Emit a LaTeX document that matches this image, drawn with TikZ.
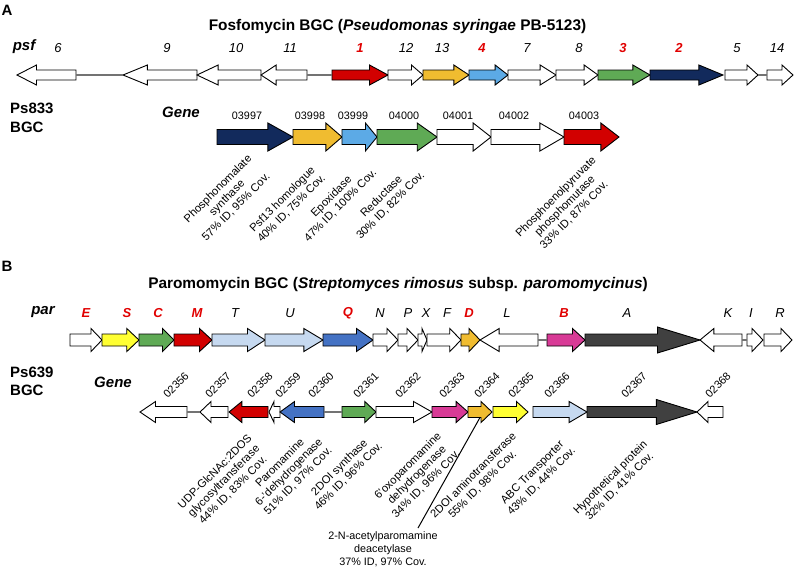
\documentclass[tikz,border=0pt]{standalone}
\usepackage{fontspec}
\setmainfont{Liberation Sans}
\definecolor{gRed}{RGB}{210,0,0}
\definecolor{labRed}{RGB}{225,0,0}
\definecolor{gNavy}{RGB}{18,42,92}
\definecolor{gGold}{RGB}{240,188,48}
\definecolor{gSky}{RGB}{92,170,230}
\definecolor{gGreen}{RGB}{95,170,85}
\definecolor{gYellow}{RGB}{255,255,50}
\definecolor{gPale}{RGB}{198,217,240}
\definecolor{gBlue}{RGB}{68,114,196}
\definecolor{gPink}{RGB}{216,58,150}
\definecolor{gDark}{RGB}{64,64,64}
\tikzset{
  genebox/.style={draw=black, line width=0.9pt, line join=miter},
  linkline/.style={draw=black!55, line width=1.5pt},
  glab/.style={font=\fontsize{13}{13}\selectfont\itshape, inner sep=0pt},
  glabred/.style={font=\fontsize{13}{13}\selectfont\bfseries\itshape, text=labRed, inner sep=0pt},
  rowname/.style={font=\fontsize{15}{15}\selectfont\bfseries\itshape, inner sep=0pt},
  bigtitle/.style={font=\fontsize{15.4}{16}\selectfont\bfseries, inner sep=0pt},
  panel/.style={font=\fontsize{15}{15}\selectfont\bfseries, inner sep=0pt},
  bgcname/.style={font=\fontsize{15}{15}\selectfont\bfseries, inner sep=0pt, anchor=west},
  numlab/.style={font=\fontsize{10.8}{11}\selectfont, inner sep=0pt},
  rotnum/.style={font=\fontsize{11}{11}\selectfont, inner sep=0pt, rotate=45},
  desc/.style={font=\fontsize{11.2}{12.8}\selectfont, align=center, inner sep=0pt, rotate=45},
  hdesc/.style={font=\fontsize{10.8}{13}\selectfont, align=center, inner sep=0pt},
}
\def\hfrac{0.33}
\def\hmin{11}
\newcommand{\gene}[5]{%
  \pgfmathsetmacro\gS{(#3>#2) ? 1 : -1}%
  \pgfmathsetmacro\gL{abs(#3-#2)}%
  \pgfmathsetmacro\gH{max(\hfrac*\gL, min(\gL,\hmin))}%
  \pgfmathsetmacro\gB{#3-\gS*\gH}%
  \path[genebox, fill=#5] (#2,#4-\gbh) -- (\gB,#4-\gbh) -- (\gB,#4-\ghh) -- (#3,#4)
     -- (\gB,#4+\ghh) -- (\gB,#4+\gbh) -- (#2,#4+\gbh) -- cycle;
  \coordinate (#1t) at (#2,#4);
  \coordinate (#1h) at (#3,#4);
}
\begin{document}
\begin{tikzpicture}[x=1pt,y=-1pt]
\useasboundingbox (0,0) rectangle (794,568);
\fill[white] (0,0) rectangle (794,568);

% ---------------- Panel A ----------------
\node[panel] (pA) at (7,10) {A};
\node[bigtitle] (tA) at (397.5,27) {Fosfomycin BGC (\textit{Pseudomonas syringae} PB-5123)};

\node[rowname] (psf) at (24,47) {psf};
\node[glab] (l6) at (58,48) {6};
\node[glab] (l9) at (167,48) {9};
\node[glab] (l10) at (236,48) {10};
\node[glab] (l11) at (290,48) {11};
\node[glabred] (l1) at (360,48) {1};
\node[glab] (l12) at (406,48) {12};
\node[glab] (l13) at (442,48) {13};
\node[glabred] (l4) at (482,48) {4};
\node[glab] (l7) at (527,48) {7};
\node[glab] (l8) at (579,48) {8};
\node[glabred] (l3) at (623,48) {3};
\node[glabred] (l2) at (679,48) {2};
\node[glab] (l5) at (737,48) {5};
\node[glab] (l14) at (777,48) {14};

\def\gbh{5}\def\ghh{10}
\gene{a6}{76}{17}{75}{white}
\gene{a9}{197}{123}{75}{white}
\gene{a10}{261}{197}{75}{white}
\gene{a11}{307}{261}{75}{white}
\gene{a1}{332}{388}{75}{gRed}
\gene{a12}{388}{423}{75}{white}
\gene{a13}{423}{469}{75}{gGold}
\gene{a4}{469}{508}{75}{gSky}
\gene{a7}{508}{556}{75}{white}
\gene{a8}{556}{598}{75}{white}
\gene{a3}{598}{650}{75}{gGreen}
\gene{a2}{650}{723}{75}{gNavy}
\gene{a5}{725}{758}{75}{white}
\gene{a14}{767}{793}{75}{white}
\draw[linkline] (a6t) -- (a9h);
\draw[linkline] (a11t) -- (a1t);
\draw[linkline] (a5h) -- (a14t);

\node[bgcname] (ps833) at (10,108) {Ps833};
\node[bgcname] (bgc1) at (10,127) {BGC};
\node[rowname] (gene1) at (181,112) {Gene};

\node[numlab] (n03997) at (247,116) {03997};
\node[numlab] (n03998) at (310,116) {03998};
\node[numlab] (n03999) at (353,116) {03999};
\node[numlab] (n04000) at (404,116) {04000};
\node[numlab] (n04001) at (458,116) {04001};
\node[numlab] (n04002) at (514,116) {04002};
\node[numlab] (n04003) at (584,116) {04003};

\def\gbh{7.5}\def\ghh{14}
\gene{b1}{217}{293}{137}{gNavy}
\gene{b2}{293}{342}{137}{gGold}
\gene{b3}{342}{377}{137}{gSky}
\gene{b4}{377}{437}{137}{gGreen}
\gene{b5}{437}{491}{137}{white}
\gene{b6}{491}{564}{137}{white}
\gene{b7}{564}{619}{137}{gRed}

\node[desc] (dA1) at (227,198) {Phosphonomalate\\synthase\\57\% ID, 95\% Cov.};
\node[desc] (dA2) at (287,204) {Psf13 homologue\\40\% ID, 75\% Cov.};
\node[desc] (dA3) at (336,201) {Epoxidase\\47\% ID, 100\% Cov.};
\node[desc] (dA4) at (386,201) {Reductase\\30\% ID, 82\% Cov.};
\node[desc] (dA5) at (565,206) {Phosphoenolpyruvate\\phosphomutase\\33\% ID, 87\% Cov.};

% ---------------- Panel B ----------------
\node[panel] (pB) at (7,266) {B};
\node[bigtitle] (tB) at (398,285) {Paromomycin BGC (\textit{Streptomyces rimosus} subsp. \textit{paromomycinus})};

\node[rowname] (par) at (43,312) {par};
\node[glabred] (lE) at (86,313) {E};
\node[glabred] (lS) at (127,313) {S};
\node[glabred] (lC) at (158,313) {C};
\node[glabred] (lM) at (197,313) {M};
\node[glab] (lT) at (235,313) {T};
\node[glab] (lU) at (290,313) {U};
\node[glabred] (lQ) at (348,313) {Q};
\node[glab] (lN) at (380,313) {N};
\node[glab] (lP) at (408,313) {P};
\node[glab] (lX) at (426,313) {X};
\node[glab] (lF) at (447,313) {F};
\node[glabred] (lD) at (469,313) {D};
\node[glab] (lL) at (507,313) {L};
\node[glabred] (lB) at (564,313) {B};
\node[glab] (lA) at (627,313) {A};
\node[glab] (lK) at (728,313) {K};
\node[glab] (lI) at (751,313) {I};
\node[glab] (lR) at (780,313) {R};

\def\gbh{6}\def\ghh{11.5}
\gene{pE}{70}{102}{340}{white}
\gene{pS}{102}{139}{340}{gYellow}
\gene{pC}{139}{174}{340}{gGreen}
\gene{pM}{174}{212}{340}{gRed}
\gene{pT}{212}{265}{340}{gPale}
\gene{pU}{265}{323}{340}{gPale}
\gene{pQ}{323}{373}{340}{gBlue}
\gene{pN}{373}{398}{340}{white}
\gene{pP}{398}{418}{340}{white}
\def\hmin{5}
\gene{pX}{418}{427}{340}{white}
\def\hmin{11}
\gene{pF}{427}{461}{340}{white}
\gene{pD}{461}{480}{340}{gGold}
\gene{pL}{538}{480}{340}{white}
\gene{pB}{547}{585}{340}{gPink}
{\def\ghh{13}\def\hfrac{0.37}\gene{pA}{585}{700}{340}{gDark}}
\gene{pK}{742}{700}{340}{white}
\gene{pI}{747}{763}{340}{white}
\gene{pR}{764}{792}{340}{white}
\draw[linkline] (pLt) -- (pBt);
\draw[linkline] (pKt) -- (pIt);

\node[bgcname] (ps639) at (10,372) {Ps639};
\node[bgcname] (bgc2) at (10,390) {BGC};
\node[rowname] (gene2) at (113,382) {Gene};

\node[rotnum] (m56) at (176,385) {02356};
\node[rotnum] (m57) at (218,385) {02357};
\node[rotnum] (m58) at (260,385) {02358};
\node[rotnum] (m59) at (288,385) {02359};
\node[rotnum] (m60) at (321,385) {02360};
\node[rotnum] (m61) at (366,385) {02361};
\node[rotnum] (m62) at (408,385) {02362};
\node[rotnum] (m63) at (452,385) {02363};
\node[rotnum] (m64) at (487,385) {02364};
\node[rotnum] (m65) at (521,385) {02365};
\node[rotnum] (m66) at (557,385) {02366};
\node[rotnum] (m67) at (634,385) {02367};
\node[rotnum] (m68) at (718,385) {02368};

\def\gbh{5.5}\def\ghh{10.5}
\gene{c56}{187}{140}{412}{white}
\gene{c57}{228}{200}{412}{white}
\gene{c58}{268}{229}{412}{gRed}
\def\hmin{5}
\gene{c59}{280}{269}{412}{white}
\def\hmin{11}
\gene{c60}{324}{280}{412}{gBlue}
\gene{c61}{342}{376}{412}{gGreen}
\gene{c62}{376}{432}{412}{white}
\gene{c63}{432}{468}{412}{gPink}
\gene{c64}{468}{492}{412}{gGold}
\gene{c65}{493}{528}{412}{gYellow}
\gene{c66}{533}{587}{412}{gPale}
{\def\ghh{12.5}\def\hfrac{0.37}\gene{c67}{587}{697}{412}{gDark}}
\gene{c68}{723}{697}{412}{white}
\draw[linkline] (c56t) -- (c57h);
\draw[linkline] (c60t) -- (c61t);

\node[desc] (dB1) at (224,481) {UDP-GlcNAc:2DOS\\glycosyltransferase\\44\% ID, 83\% Cov.};
\node[desc] (dB2) at (289,472) {Paromamine\\6-'dehydrogenase\\51\% ID, 97\% Cov.};
\node[desc] (dB3) at (344,472) {2DOI synthase\\46\% ID, 96\% Cov.};
\node[desc] (dB4) at (417,475) {6'oxoparomamine\\dehydrogenase\\34\% ID, 96\% Cov.};
\node[desc] (dB5) at (478,480) {2DOI aminotransferase\\55\% ID, 98\% Cov.};
\node[desc] (dB6) at (537,477) {ABC Transporter\\43\% ID, 44\% Cov.};
\node[desc] (dB7) at (615,482) {Hypothetical protein\\32\% ID, 41\% Cov.};

\node[hdesc] (deac) at (383,549) {2-N-acetylparomamine\\deacetylase\\37\% ID, 97\% Cov.};
\coordinate (deacend) at (418,528);
\coordinate (c64foot) at (480,417.5);
\draw[line width=1pt] (deacend) -- (c64foot);
\end{tikzpicture}
\end{document}
